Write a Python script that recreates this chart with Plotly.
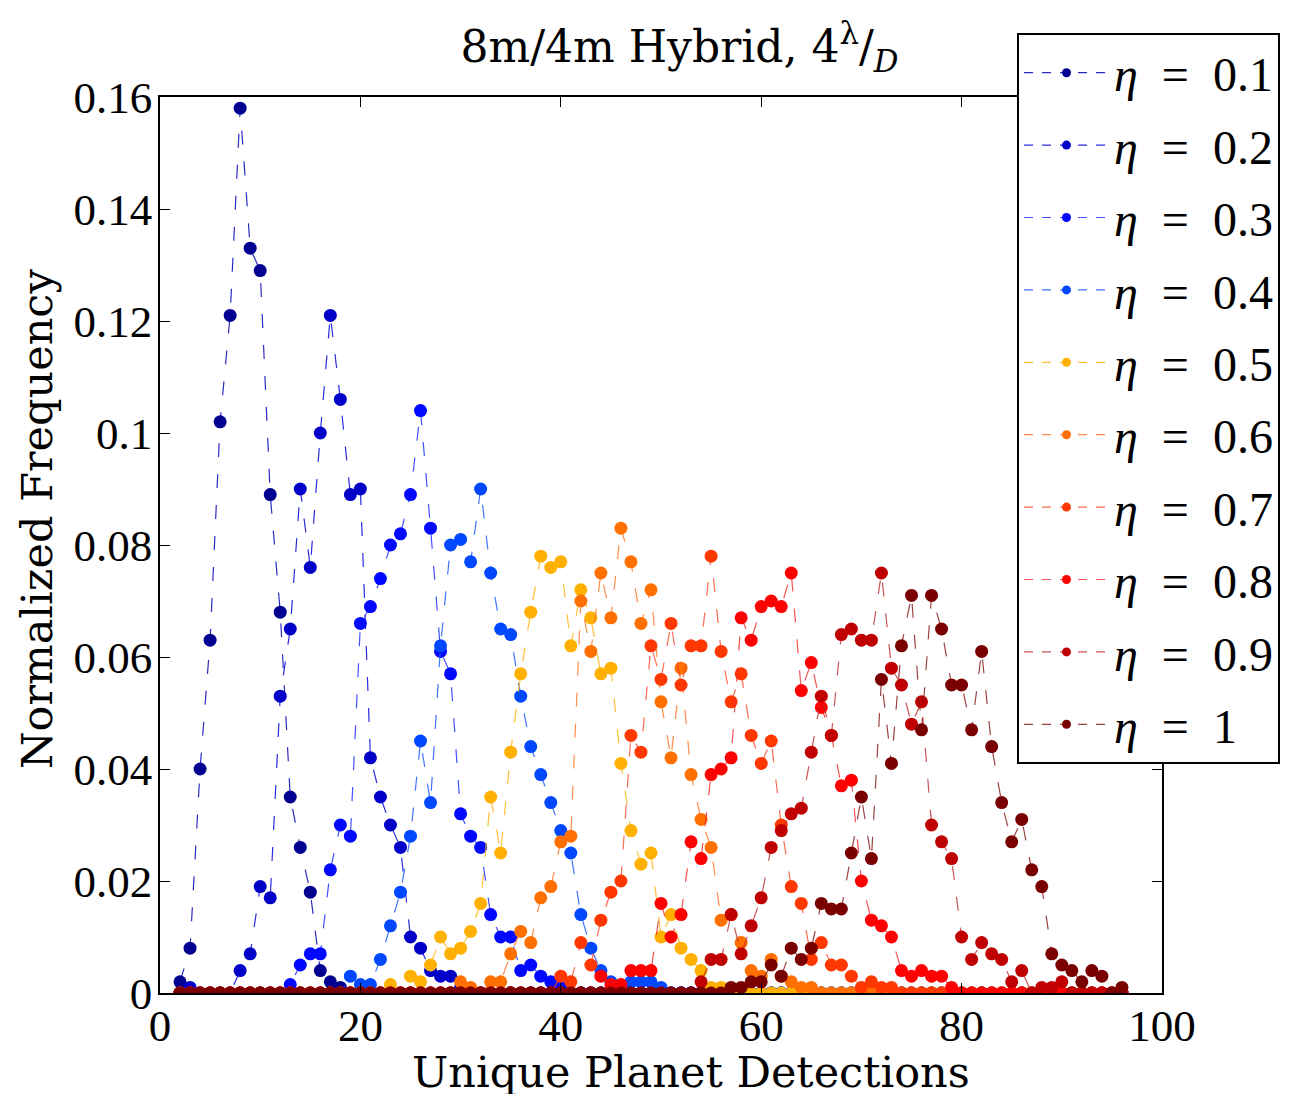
import plotly.graph_objects as go

# ---------------- data ----------------
x_vals = list(range(2, 97))  # Unique planet detections, 2..96

eta_labels = ["0.1", "0.2", "0.3", "0.4", "0.5", "0.6", "0.7", "0.8", "0.9", "1"]

eta_01 = [0.002, 0.008, 0.040, 0.063, 0.102, 0.121, 0.158, 0.133, 0.129, 0.089,
          0.068, 0.035, 0.026, 0.018, 0.004, 0.002, 0.001, 0, 0, 0,
          0, 0, 0, 0, 0, 0, 0, 0, 0, 0,
          0, 0, 0, 0, 0, 0, 0, 0, 0, 0,
          0, 0, 0, 0, 0, 0, 0, 0, 0, 0,
          0, 0, 0, 0, 0, 0, 0, 0, 0, 0,
          0, 0, 0, 0, 0, 0, 0, 0, 0, 0,
          0, 0, 0, 0, 0, 0, 0, 0, 0, 0,
          0, 0, 0, 0, 0, 0, 0, 0, 0, 0,
          0, 0, 0, 0, 0]
eta_02 = [0, 0.001, 0, 0, 0, 0, 0.004, 0.007, 0.019, 0.017,
          0.053, 0.065, 0.090, 0.076, 0.100, 0.121, 0.106, 0.089, 0.090, 0.042,
          0.035, 0.030, 0.026, 0.010, 0.008, 0.004, 0.003, 0.003, 0.001, 0,
          0, 0, 0, 0, 0, 0, 0, 0, 0, 0,
          0, 0, 0, 0, 0, 0, 0, 0, 0, 0,
          0, 0, 0, 0, 0, 0, 0, 0, 0, 0,
          0, 0, 0, 0, 0, 0, 0, 0, 0, 0,
          0, 0, 0, 0, 0, 0, 0, 0, 0, 0,
          0, 0, 0, 0, 0, 0, 0, 0, 0, 0,
          0, 0, 0, 0, 0]
eta_03 = [0, 0, 0, 0, 0, 0, 0, 0, 0, 0,
          0, 0.0015, 0.005, 0.007, 0.007, 0.022, 0.030, 0.028, 0.066, 0.069,
          0.074, 0.080, 0.082, 0.089, 0.104, 0.083, 0.061, 0.057, 0.032, 0.028,
          0.026, 0.014, 0.010, 0.010, 0.004, 0.005, 0.003, 0.002, 0.001, 0,
          0, 0, 0, 0, 0, 0, 0, 0, 0, 0,
          0, 0, 0, 0, 0, 0, 0, 0, 0, 0,
          0, 0, 0, 0, 0, 0, 0, 0, 0, 0,
          0, 0, 0, 0, 0, 0, 0, 0, 0, 0,
          0, 0, 0, 0, 0, 0, 0, 0, 0, 0,
          0, 0, 0, 0, 0]
eta_04 = [0, 0, 0, 0, 0, 0, 0, 0, 0, 0,
          0, 0, 0, 0, 0, 0, 0, 0.003, 0.0015, 0.0015,
          0.006, 0.012, 0.018, 0.028, 0.045, 0.034, 0.062, 0.080, 0.081, 0.077,
          0.090, 0.075, 0.065, 0.064, 0.053, 0.044, 0.039, 0.034, 0.029, 0.025,
          0.014, 0.008, 0.004, 0.002, 0.001, 0.002, 0.002, 0.002, 0.001, 0,
          0, 0, 0, 0, 0, 0, 0, 0, 0, 0,
          0, 0, 0, 0, 0, 0, 0, 0, 0, 0,
          0, 0, 0, 0, 0, 0, 0, 0, 0, 0,
          0, 0, 0, 0, 0, 0, 0, 0, 0, 0,
          0, 0, 0, 0, 0]
eta_05 = [0, 0, 0, 0, 0, 0, 0, 0, 0, 0,
          0, 0, 0, 0, 0, 0, 0, 0, 0, 0,
          0, 0.0015, 0, 0.003, 0.002, 0.005, 0.010, 0.007, 0.008, 0.011,
          0.016, 0.035, 0.025, 0.043, 0.057, 0.068, 0.078, 0.076, 0.077, 0.062,
          0.072, 0.067, 0.057, 0.058, 0.041, 0.029, 0.023, 0.025, 0.010, 0.014,
          0.008, 0.006, 0.004, 0.001, 0.001, 0, 0, 0, 0, 0,
          0, 0, 0, 0, 0, 0, 0, 0, 0, 0,
          0, 0, 0, 0, 0, 0, 0, 0, 0, 0,
          0, 0, 0, 0, 0, 0, 0, 0, 0, 0,
          0, 0, 0, 0, 0]
eta_06 = [0, 0, 0, 0, 0, 0, 0, 0, 0, 0,
          0, 0, 0, 0, 0, 0, 0, 0, 0, 0,
          0, 0, 0, 0, 0, 0, 0, 0, 0.002, 0.001,
          0, 0.002, 0.002, 0.007, 0.011, 0.009, 0.017, 0.019, 0.027, 0.028,
          0.070, 0.061, 0.075, 0.067, 0.083, 0.077, 0.066, 0.072, 0.052, 0.042,
          0.058, 0.039, 0.031, 0.026, 0.013, 0.014, 0.009, 0.004, 0.003, 0.006,
          0.003, 0.002, 0.001, 0.001, 0, 0, 0, 0, 0, 0,
          0, 0, 0, 0, 0, 0, 0, 0, 0, 0,
          0, 0, 0, 0, 0, 0, 0, 0, 0, 0,
          0, 0, 0, 0, 0]
eta_07 = [0, 0, 0, 0, 0, 0, 0, 0, 0, 0,
          0, 0, 0, 0, 0, 0, 0, 0, 0, 0,
          0, 0, 0, 0, 0, 0, 0, 0, 0, 0,
          0, 0, 0, 0, 0, 0, 0, 0, 0.003, 0.002,
          0.009, 0.005, 0.013, 0.018, 0.020, 0.046, 0.043, 0.062, 0.056, 0.066,
          0.055, 0.062, 0.062, 0.078, 0.061, 0.052, 0.057, 0.046, 0.041, 0.045,
          0.030, 0.019, 0.016, 0.006, 0.009, 0.005, 0.005, 0.003, 0.001, 0.002,
          0.001, 0.001, 0, 0, 0, 0, 0, 0, 0, 0,
          0, 0, 0, 0, 0, 0, 0, 0, 0, 0,
          0, 0, 0, 0, 0]
eta_08 = [0, 0, 0, 0, 0, 0, 0, 0, 0, 0,
          0, 0, 0, 0, 0, 0, 0, 0, 0, 0,
          0, 0, 0, 0, 0, 0, 0, 0, 0, 0,
          0, 0, 0, 0, 0, 0, 0, 0, 0, 0,
          0, 0, 0.003, 0.0015, 0.0015, 0.004, 0.004, 0.004, 0.016, 0.010,
          0.014, 0.027, 0.024, 0.039, 0.040, 0.042, 0.067, 0.063, 0.069, 0.070,
          0.069, 0.075, 0.054, 0.059, 0.051, 0.046, 0.037, 0.038, 0.020, 0.013,
          0.012, 0.010, 0.004, 0.003, 0.004, 0.003, 0.003, 0.001, 0, 0,
          0, 0, 0, 0, 0, 0, 0, 0, 0, 0,
          0, 0, 0, 0, 0]
eta_09 = [0, 0, 0, 0, 0, 0, 0, 0, 0, 0,
          0, 0, 0, 0, 0, 0, 0, 0, 0, 0,
          0, 0, 0, 0, 0, 0, 0, 0, 0, 0,
          0, 0, 0, 0, 0, 0, 0, 0, 0, 0,
          0, 0, 0, 0, 0, 0, 0, 0, 0, 0,
          0, 0, 0.002, 0.006, 0.006, 0.014, 0.007, 0.012, 0.017, 0.026,
          0.029, 0.032, 0.033, 0.043, 0.053, 0.046, 0.064, 0.065, 0.063, 0.063,
          0.075, 0.058, 0.055, 0.048, 0.052, 0.030, 0.027, 0.024, 0.010, 0.006,
          0.009, 0.007, 0.006, 0.002, 0.004, 0, 0.001, 0.001, 0.002, 0,
          0, 0, 0, 0, 0]
eta_10 = [0, 0, 0, 0, 0, 0, 0, 0, 0, 0,
          0, 0, 0, 0, 0, 0, 0, 0, 0, 0,
          0, 0, 0, 0, 0, 0, 0, 0, 0, 0,
          0, 0, 0, 0, 0, 0, 0, 0, 0, 0,
          0, 0, 0, 0, 0, 0, 0, 0, 0, 0,
          0, 0, 0, 0, 0, 0.001, 0.001, 0.002, 0.002, 0.005,
          0.003, 0.008, 0.006, 0.008, 0.016, 0.015, 0.015, 0.025, 0.035, 0.024,
          0.056, 0.041, 0.062, 0.071, 0.047, 0.071, 0.065, 0.055, 0.055, 0.047,
          0.061, 0.044, 0.034, 0.027, 0.031, 0.022, 0.019, 0.007, 0.005, 0.004,
          0.002, 0.004, 0.003, 0, 0.001]

series = [eta_01, eta_02, eta_03, eta_04, eta_05, eta_06, eta_07, eta_08, eta_09, eta_10]

marker_colors = ["#000090", "#0000C8", "#0008FF", "#0048FF", "#FFB000",
                 "#FF7000", "#FF3800", "#FF0000", "#C00000", "#7A0000"]
line_colors = ["rgba(20,20,190,0.9)", "rgba(20,20,220,0.9)", "rgba(30,50,255,0.85)",
               "rgba(30,90,255,0.85)", "rgba(255,180,20,0.85)", "rgba(255,120,40,0.85)",
               "rgba(255,70,40,0.8)", "rgba(240,40,40,0.8)", "rgba(190,40,40,0.8)",
               "rgba(130,20,20,0.8)"]

x_ticks = [0, 20, 40, 60, 80, 100]
y_ticks = [0, 0.02, 0.04, 0.06, 0.08, 0.1, 0.12, 0.14, 0.16]
y_ticktext = ["0", "0.02", "0.04", "0.06", "0.08", "0.1", "0.12", "0.14", "0.16"]

SERIF = "Liberation Serif"
WIDE_SERIF = "DejaVu Serif"

fig = go.Figure()

# data traces
for vals, mc, lc in zip(series, marker_colors, line_colors):
    fig.add_trace(go.Scatter(
        x=x_vals, y=vals, mode="lines+markers",
        line=dict(color=lc, width=1.2, dash="14px,17px"),
        marker=dict(color=mc, size=13, line=dict(width=0)),
        showlegend=False, hoverinfo="skip"))

# legend entries (smaller markers, as in the reference legend)
for i, (lab, mc, lc) in enumerate(zip(eta_labels, marker_colors, line_colors)):
    fig.add_trace(go.Scatter(
        x=[None], y=[None], mode="lines+markers",
        name="<i>η</i>\u2002=\u2002" + lab,
        legendgroup="g%d" % i,
        line=dict(color=lc, width=1.2, dash="9px,9px"),
        marker=dict(color=mc, size=9)))

# The page body has an 8px margin, so the figure is offset by (8, 8) in the window.
OFF = 8
W, H = 1291 - OFF, 1094 - OFF
L, R, T, B = 160 - OFF, 1163 - OFF, 97 - OFF, 993 - OFF
pw, ph = R - L, B - T

def px_to_paper(px, py):
    """window pixel -> paper coordinates"""
    return (px - OFF - L) / pw, (B - (py - OFF)) / ph

leg_x, leg_y = px_to_paper(1017, 33)
xt_x, xt_y = px_to_paper(692, 1072)
yt_x, yt_y = px_to_paper(37, 519)
ti_x, _ = px_to_paper(680, 47)

axis_common = dict(
    showline=True, linecolor="black", linewidth=1.5, mirror="ticks",
    ticks="inside", ticklen=10, tickwidth=1.2, tickcolor="black",
    showgrid=False, zeroline=False,
    tickfont=dict(family=SERIF, size=45, color="black"),
)

fig.update_layout(
    width=W, height=H,
    margin=dict(l=L, r=W - R, t=T, b=H - B),
    paper_bgcolor="white", plot_bgcolor="white",
    xaxis=dict(range=[0, 100], tickvals=x_ticks, ticktext=[str(v) for v in x_ticks],
               ticklabelstandoff=-8, **axis_common),
    yaxis=dict(range=[0, 0.16], tickvals=y_ticks, ticktext=y_ticktext,
               ticklabelstandoff=-3, **axis_common),
    title=dict(text="8m/4m Hybrid, 4<sup>λ</sup>/<sub><i>D</i></sub>",
               font=dict(family=WIDE_SERIF, size=44, color="black"),
               x=ti_x, xref="paper", xanchor="center",
               y=1 - (47 - OFF) / H, yref="container", yanchor="middle"),
    legend=dict(x=leg_x, y=leg_y, xanchor="left", yanchor="top",
                bgcolor="white", bordercolor="black", borderwidth=2,
                font=dict(family=SERIF, size=48, color="black"),
                tracegroupgap=7, itemwidth=85, traceorder="grouped",
                maxheight=1000),
    annotations=[
        dict(text="Unique Planet Detections", x=xt_x, y=xt_y, xref="paper", yref="paper",
             showarrow=False, xanchor="center", yanchor="middle",
             font=dict(family=WIDE_SERIF, size=43, color="black")),
        dict(text="Normalized Frequency", x=yt_x, y=yt_y, xref="paper", yref="paper",
             showarrow=False, xanchor="center", yanchor="middle", textangle=-90,
             font=dict(family=WIDE_SERIF, size=43, color="black")),
    ],
)

fig.write_html("out.html")
